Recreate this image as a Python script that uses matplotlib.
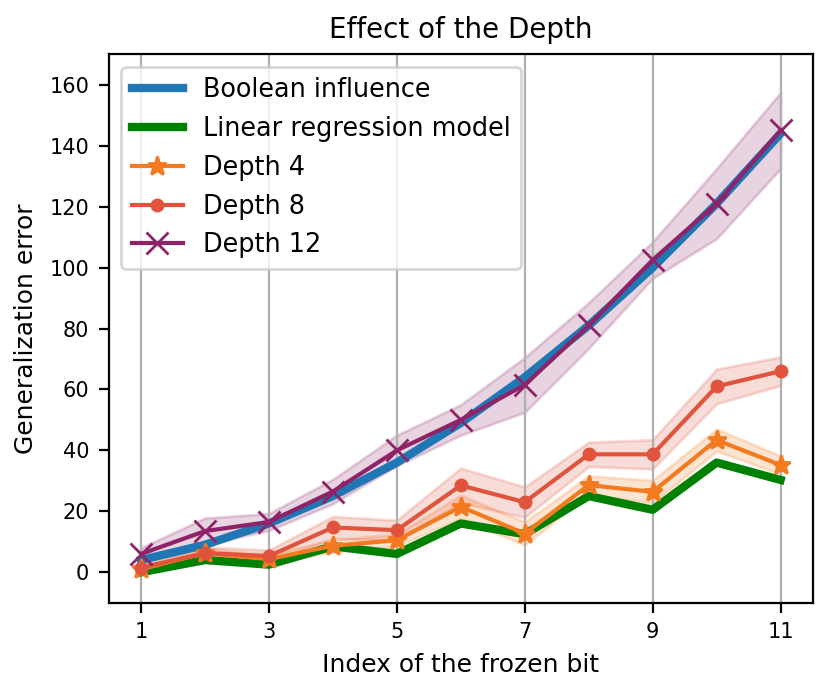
import matplotlib
matplotlib.use("Agg")
import matplotlib.pyplot as plt
import numpy as np

bits = np.arange(1, 12)

boolean_influence = [4, 9, 16, 25, 36, 49, 64, 81, 100, 121, 144]
linear_regression = [0, 4, 2.5, 8.5, 6, 16, 12.5, 25, 20.5, 36, 30.3]

depth4_mean = [1, 6.3, 4.3, 8.7, 10.5, 21.5, 12.7, 28.6, 26.4, 43.4, 35.2]
depth4_err = [1, 1.5, 1.5, 2, 2, 3.8, 3.8, 3, 3.8, 3.6, 3]
depth8_mean = [1.5, 6.3, 5.3, 14.7, 13.8, 28.5, 23, 38.7, 38.7, 61, 66]
depth8_err = [1, 2, 2, 3.6, 3.3, 5.7, 5, 4, 4.8, 5.7, 4.7]
depth12_mean = [6, 13.5, 16.5, 26.5, 40, 50, 61.5, 81, 102.5, 121, 145]
depth12_err = [2, 4.3, 2.8, 4, 5, 5, 9, 7.5, 6, 11.5, 12.5]

depths = [
    ("Depth 4", depth4_mean, depth4_err, "#f47a1f", "*", 7),
    ("Depth 8", depth8_mean, depth8_err, "#e0533c", "o", 4),
    ("Depth 12", depth12_mean, depth12_err, "#8e2467", "x", 8),
]

fig = plt.figure(figsize=(831 / 200, 693 / 200), dpi=200)
ax = fig.add_axes([0.1308, 0.1303, 0.847, 0.7913])

ax.plot(bits, boolean_influence, color="#1f77b4", linewidth=3, label="Boolean influence")
ax.plot(bits, linear_regression, color="green", linewidth=3, label="Linear regression model")

for name, mean, err, col, mk, ms in depths:
    mean = np.array(mean)
    err = np.array(err)
    ax.plot(bits, mean, color=col, marker=mk, markersize=ms, linewidth=1.5, label=name)
    ax.fill_between(bits, mean - err, mean + err, color=col, alpha=0.2)

ax.set_xlim(0.495, 11.5)
ax.set_ylim(-10, 170)
ax.set_xticks([1, 3, 5, 7, 9, 11])
ax.set_yticks(np.arange(0, 161, 20))
ax.tick_params(labelsize=7.5)
ax.xaxis.grid(True, color="#b0b0b0", linewidth=0.8)
ax.set_title("Effect of the Depth", fontsize=10)
ax.set_xlabel("Index of the frozen bit", fontsize=9)
ax.set_ylabel("Generalization error", fontsize=9)
ax.legend(loc="upper left", fontsize=9.2)

fig.savefig("out.png", dpi=200)
